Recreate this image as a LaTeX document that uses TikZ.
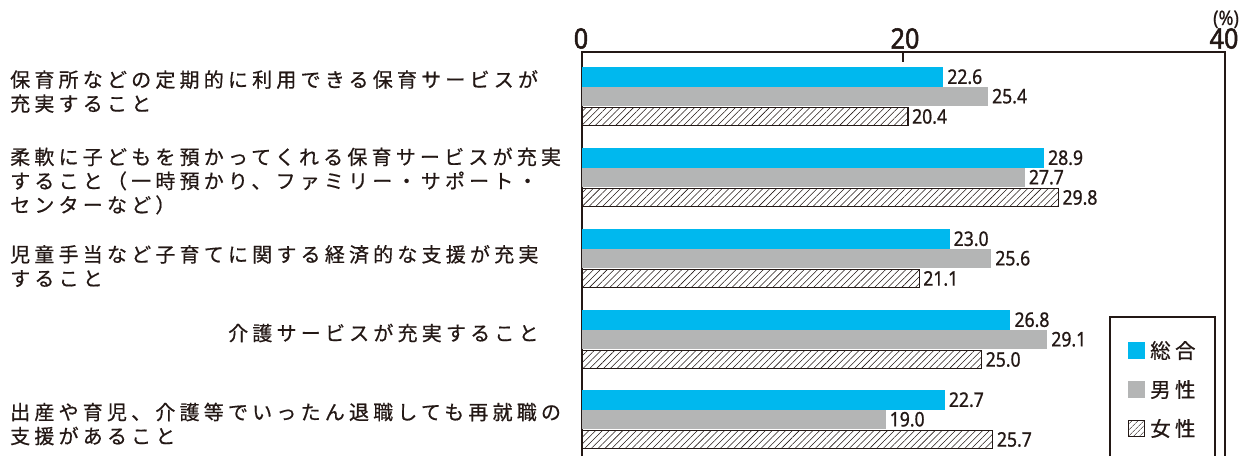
\documentclass[tikz,border=0pt]{standalone}
\usepackage{fontspec}
\usetikzlibrary{patterns.meta}
\newfontfamily\jpfont[LetterSpace=21,FakeBold=0.6]{Noto Sans CJK JP}
\newfontfamily\numfont[FakeStretch=0.88,FakeBold=0.9]{Noto Sans}
\newfontfamily\axfont[FakeStretch=0.9,FakeBold=1.8]{Noto Sans}
\newfontfamily\pctfont[FakeStretch=0.9,FakeBold=0.6]{Noto Sans}
\definecolor{ink}{HTML}{231815}
\definecolor{blueb}{HTML}{00B8EE}
\definecolor{grayb}{HTML}{B4B5B5}
\tikzset{
  lbl/.style={anchor=west, inner sep=0pt, align=left, text=ink,
    font=\jpfont\fontsize{20}{24}\selectfont},
  val/.style={anchor=west, inner sep=0pt, text=ink,
    font=\numfont\fontsize{20}{20}\selectfont},
  axl/.style={anchor=base, inner sep=0pt, text=ink,
    font=\axfont\fontsize{28}{28}\selectfont},
  barA/.style={fill=blueb, draw=none},
  barB/.style={fill=grayb, draw=none},
  barC/.style={draw=ink, line width=1.2pt,
    pattern={Lines[angle=45,distance=4.8pt,line width=0.55pt]}, pattern color=ink},
  frame/.style={draw=ink, line width=1.3pt},
  legt/.style={anchor=west, inner sep=0pt, text=ink,
    font=\jpfont\fontsize{20.5}{24}\selectfont}
}
\begin{document}
\begin{tikzpicture}[x=1pt,y=-1pt]
\useasboundingbox (0,0) rectangle (1249,456);
% axis frame
\coordinate (fbl) at (582,456);
\coordinate (ftl) at (582,52);
\coordinate (ftr) at (1225,52);
\coordinate (fbr) at (1225,456);
\draw[frame] (fbl) -- (ftl) -- (ftr) -- (fbr);
\coordinate (t20a) at (903,52);
\coordinate (t20b) at (903,62);
\draw[frame] (t20a) -- (t20b);
\node[axl] (a0) at (581,48.5) {0};
\node[axl] (a20) at (905,48.5) {20};
\node[axl] (a40) at (1224,48.5) {40};
\node[anchor=base, inner sep=0pt, text=ink, font=\pctfont\fontsize{20}{20}\selectfont] (pct) at (1226,25) {(\%)};
% bars: x = 581.5 + 16*v
\def\xo{581.5}
\def\sc{16}
\newcommand{\bargroup}[5]{%
  \pgfmathsetmacro{\ya}{#1}\pgfmathsetmacro{\yb}{#1+19.5}
  \pgfmathsetmacro{\yc}{#1+39}\pgfmathsetmacro{\yd}{#1+40.5}
  \pgfmathsetmacro{\ye}{#1+58.5}
  \pgfmathsetmacro{\xa}{\xo+\sc*#2}\pgfmathsetmacro{\xb}{\xo+\sc*#3}\pgfmathsetmacro{\xc}{\xo+\sc*#4}
  \path[barA] (\xo,\ya) rectangle (\xa,\yb);
  \path[barB] (\xo,\yb) rectangle (\xb,\yc);
  \path[barC] (\xo+0.6,\yd) rectangle (\xc,\ye);
  \node[val] (#5t) at (\xa+4,{(\ya+\yb)/2}) {#2};
  \node[val] (#5m) at (\xb+4,{(\yb+\yc)/2}) {#3};
  \node[val] (#5f) at (\xc+4,{(\yd+\ye)/2}) {#4};
}
\bargroup{67}{22.6}{25.4}{20.4}{g1}
\bargroup{148}{28.9}{27.7}{29.8}{g2}
\bargroup{229}{23.0}{25.6}{21.1}{g3}
\bargroup{310}{26.8}{29.1}{25.0}{g4}
\bargroup{390}{22.7}{19.0}{25.7}{g5}
% labels
\node[lbl] (l1) at (10,91.5) {保育所などの定期的に利用できる保育サービスが\\充実すること};
\node[lbl] (l2) at (10,181) {柔軟に子どもを預かってくれる保育サービスが充実\\すること（一時預かり、ファミリー・サポート・\\センターなど）};
\node[lbl] (l3) at (10,266) {児童手当など子育てに関する経済的な支援が充実\\すること};
\node[lbl] (l4) at (228,333) {介護サービスが充実すること};
\node[lbl] (l5) at (10,424) {出産や育児、介護等でいったん退職しても再就職の\\支援があること};
% legend
\coordinate (lbl1) at (1110,456);
\coordinate (ltl) at (1110,317);
\coordinate (ltr) at (1215,317);
\coordinate (lbr) at (1215,456);
\draw[draw=ink, line width=1.1pt] (lbl1) -- (ltl) -- (ltr) -- (lbr);
\path[barA] (1128,342) rectangle (1145,359);
\path[barB] (1128,381) rectangle (1145,398);
\path[draw=ink, line width=0.9pt, pattern={Lines[angle=45,distance=4pt,line width=0.5pt]}, pattern color=ink] (1128.5,420.5) rectangle (1144.5,436.5);
\node[legt] (k1) at (1150,350.5) {総合};
\node[legt] (k2) at (1150,389.5) {男性};
\node[legt] (k3) at (1150,428.5) {女性};
\end{tikzpicture}
\end{document}
